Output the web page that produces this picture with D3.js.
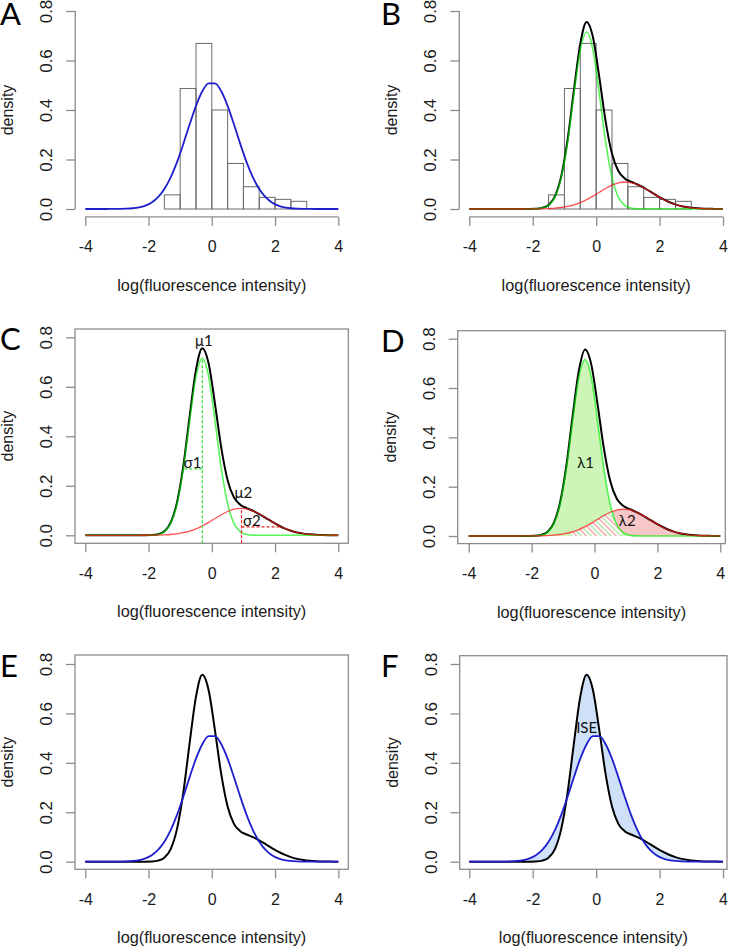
<!DOCTYPE html>
<html><head><meta charset="utf-8">
<script src="https://cdn.jsdelivr.net/npm/d3@7"></script>
<style>body{margin:0;background:#fff}svg{display:block}</style>
</head><body>
<svg id="c" width="733" height="949"></svg>
<script>
// ---------- data ----------
const xGrid = [-4,-3.9,-3.7,-3.5,-3.3,-3.1,-2.9,-2.7,-2.5,-2.3,-2.1,-1.9,-1.7,-1.5,-1.3,-1.1,-0.9,-0.7,-0.5,-0.3,-0.1,0.1,0.3,0.5,0.7,0.9,1.1,1.3,1.5,1.7,1.9,2.1,2.3,2.5,2.7,2.9,3.1,3.3,3.5,3.7,3.9,4];
const greenComp = [0,0,0,0,0,0,0,0,0,0,0.0001,0.0007,0.0036,0.0146,0.0479,0.1267,0.2701,0.4639,0.6417,0.715,0.6417,0.4639,0.2701,0.1267,0.0479,0.0146,0.0036,0.0007,0.0001,0,0,0,0,0,0,0,0,0,0,0,0,0];
const redComp = [0,0,0,0,0,0,0,0,0,0.0001,0.0002,0.0004,0.0008,0.0017,0.0033,0.0061,0.0104,0.0170,0.0261,0.0380,0.0521,0.0677,0.0830,0.0962,0.1053,0.1090,0.1065,0.0984,0.0859,0.0708,0.0552,0.0406,0.0283,0.0186,0.0115,0.0068,0.0038,0.0020,0.0010,0.0005,0.0002,0.0001];
const mixture = [0,0,0,0,0,0,0,0,0,0.0001,0.0003,0.0011,0.0044,0.0163,0.0512,0.1328,0.2805,0.4809,0.6678,0.756,0.6938,0.5316,0.3531,0.2229,0.1532,0.1236,0.1101,0.0991,0.0860,0.0708,0.0552,0.0406,0.0283,0.0186,0.0115,0.0068,0.0038,0.0020,0.0010,0.0005,0.0002,0.0001];
const normalFit = [0,0,0,0,0.0001,0.0002,0.0005,0.0013,0.0030,0.0066,0.0137,0.0264,0.0476,0.0806,0.1277,0.1894,0.2631,0.3423,0.4169,0.4755,0.5078,0.5078,0.4755,0.4169,0.3423,0.2631,0.1894,0.1277,0.0806,0.0476,0.0264,0.0137,0.0066,0.0030,0.0013,0.0005,0.0002,0.0001,0,0,0,0];
const histBreaks = [-2,-1.5,-1,-0.5,0,0.5,1,1.5,2,2.5,3];
const histDensity = [0,0.057,0.487,0.669,0.400,0.184,0.090,0.047,0.039,0.031];
const xTicks = [-4,-2,0,2,4];
const yTicks = [0,0.2,0.4,0.6,0.8];
const panelLetters = ['A','B','C','D','E','F'];
const xLabel = 'log(fluorescence intensity)';
const yLabel = 'density';
// annotations (data coordinates)
const labelsC = [{t:'μ1',x:-0.25,y:0.766,a:'middle'},{t:'σ1',x:-0.33,y:0.272,a:'end'},{t:'μ2',x:1.0,y:0.151,a:'middle'},{t:'σ2',x:0.99,y:0.038,a:'start'}];
const segsGreenC = [{x1:-0.3,y1:-0.032,x2:-0.3,y2:0.715},{x1:-0.87,y1:0.268,x2:-0.3,y2:0.268}];
const segsRedC = [{x1:0.94,y1:-0.032,x2:0.94,y2:0.109},{x1:0.94,y1:0.034,x2:2.15,y2:0.034}];
const labelsD = [{t:'λ1',x:-0.28,y:0.275,a:'middle'},{t:'λ2',x:1.04,y:0.04,a:'middle'}];
const hatchRange = [-0.75,0.85];
const labelsF = [{t:'ISE',x:-0.3,y:0.52,a:'middle'}];

// ---------- layout ----------
const cfgs = [
 {xr:[85.3,338.3], yr:[209,11],     l:75.2, r:348.4, t:3.1,   b:216.9, box:false, lx:0,   ly:25},
 {xr:[469.3,723],  yr:[209,11],     l:459.3,r:733,   t:3.1,   b:216.9, box:false, lx:381, ly:25},
 {xr:[85.3,338.3], yr:[535.3,337.3],l:75,   r:348.3, t:329,   b:543.3, box:true,  lx:0,   ly:350},
 {xr:[468.7,720.3],yr:[536,338.7],  l:457.7,r:725.3, t:330.7, b:543.6, box:true,  lx:381, ly:352},
 {xr:[85.3,338.3], yr:[861.7,664],  l:75,   r:348.3, t:655,   b:869.3, box:true,  lx:0,   ly:677},
 {xr:[469.3,723],  yr:[861.7,664],  l:459.7,r:727,   t:655.7, b:869.3, box:true,  lx:381, ly:677}
];

const svg = d3.select('#c');
const FONT = "'Liberation Sans', Arial, sans-serif";
const LFONT = "Lato, 'Open Sans', sans-serif";
const AX = '#8c8c8c';
const TXT = '#1a1a1a';
const COL = {blue:'#1f1fcc', black:'#000', green:'#00ee00', red:'#ff1a1a'};

const defs = svg.append('defs');
const pat = defs.append('pattern').attr('id','hatch').attr('patternUnits','userSpaceOnUse')
  .attr('width',7).attr('height',7).attr('patternTransform','rotate(-45)');
pat.append('rect').attr('width',7).attr('height',7).attr('fill','#fff');
pat.append('rect').attr('x',0).attr('width',1.4).attr('height',7).attr('fill','#f4a3a3');
pat.append('rect').attr('x',3.5).attr('width',1.4).attr('height',7).attr('fill','#a8e6a0');

function makePanel(i){
  const c = cfgs[i];
  const x = d3.scaleLinear().domain([-4,4]).range(c.xr);
  const y = d3.scaleLinear().domain([0,0.8]).range(c.yr);
  const g = svg.append('g');
  if (c.box) {
    g.append('rect').attr('x',c.l).attr('y',c.t).attr('width',c.r-c.l).attr('height',c.b-c.t)
      .attr('fill','none').attr('stroke',AX).attr('stroke-width',1.3);
  } else {
    g.append('line').attr('x1',x(-4)).attr('x2',x(4)).attr('y1',c.b).attr('y2',c.b).attr('stroke',AX).attr('stroke-width',1.3);
    g.append('line').attr('y1',y(0)).attr('y2',y(0.8)).attr('x1',c.l).attr('x2',c.l).attr('stroke',AX).attr('stroke-width',1.3);
  }
  const xa = g.append('g').attr('transform',`translate(0,${c.b})`)
    .call(d3.axisBottom(x).tickValues(xTicks).tickSize(9).tickFormat(d=>String(d)));
  xa.select('.domain').remove();
  xa.selectAll('line').attr('stroke',AX).attr('stroke-width',1.3);
  xa.selectAll('text').attr('y',35.5).attr('dy',null).attr('font-family',FONT).attr('font-size',16).attr('fill',TXT);
  const ya = g.append('g').attr('transform',`translate(${c.l},0)`)
    .call(d3.axisLeft(y).tickValues(yTicks).tickSize(9).tickFormat(d3.format('.1f')));
  ya.select('.domain').remove();
  ya.selectAll('line').attr('stroke',AX).attr('stroke-width',1.3);
  ya.selectAll('text').attr('x',0).attr('dy',null).attr('transform','translate(-23,0) rotate(-90)')
    .attr('text-anchor','middle').attr('font-family',FONT).attr('font-size',17).attr('fill',TXT);
  g.append('text').attr('x',(c.l+c.r)/2).attr('y',c.b+74).attr('text-anchor','middle')
    .attr('font-family',FONT).attr('font-size',16.3).attr('fill',TXT).text(xLabel);
  g.append('text').attr('transform',`translate(${c.l-62},${(c.t+c.b)/2}) rotate(-90)`).attr('text-anchor','middle')
    .attr('font-family',FONT).attr('font-size',16).attr('fill',TXT).text(yLabel);
  svg.append('text').attr('x',c.lx).attr('y',c.ly).attr('font-family',LFONT).attr('font-size',31)
    .attr('fill','#000').text(panelLetters[i]);
  return {g,x,y};
}

function lineGen(p, arr){
  return d3.line().x((d,i)=>p.x(xGrid[i])).y(d=>p.y(d)).curve(d3.curveMonotoneX)(arr);
}
function areaGen(p, lo, hi){
  return d3.area().x((d,i)=>p.x(xGrid[i])).y0((d,i)=>p.y(lo ? lo[i] : 0)).y1((d,i)=>p.y(hi[i])).curve(d3.curveMonotoneX)(hi);
}
function drawLine(p, arr, color, w, op){
  p.g.append('path').attr('d',lineGen(p,arr)).attr('fill','none').attr('stroke',color)
    .attr('stroke-width',w).attr('stroke-opacity',op||1).attr('stroke-linejoin','round');
}
function drawHist(p){
  p.g.selectAll(null).data(histDensity).join('rect')
    .attr('x',(d,i)=>p.x(histBreaks[i])).attr('width',(d,i)=>p.x(histBreaks[i+1])-p.x(histBreaks[i]))
    .attr('y',d=>p.y(d)).attr('height',d=>p.y(0)-p.y(d))
    .attr('fill','none').attr('stroke','#6a6a6a').attr('stroke-width',1);
}
function drawLabels(p, labels){
  labels.forEach(L=>p.g.append('text').attr('x',p.x(L.x)).attr('y',p.y(L.y)).attr('text-anchor',L.a)
    .attr('font-family',LFONT).attr('font-size',15).attr('fill','#111').text(L.t));
}
function drawSegs(p, segs, color){
  segs.forEach(s=>p.g.append('line').attr('x1',p.x(s.x1)).attr('x2',p.x(s.x2)).attr('y1',p.y(s.y1)).attr('y2',p.y(s.y2))
    .attr('stroke',color).attr('stroke-width',1.2).attr('stroke-dasharray','3,2'));
}

// A
const pA = makePanel(0);
drawHist(pA);
drawLine(pA, normalFit, COL.blue, 1.8);

// B
const pB = makePanel(1);
drawHist(pB);
drawLine(pB, mixture, COL.black, 2);
drawLine(pB, greenComp, COL.green, 1.6, 0.65);
drawLine(pB, redComp, COL.red, 1.3, 0.75);

// C
const pC = makePanel(2);
drawLine(pC, mixture, COL.black, 2);
drawLine(pC, greenComp, COL.green, 1.6, 0.65);
drawLine(pC, redComp, COL.red, 1.3, 0.75);
drawSegs(pC, segsGreenC, '#33dd33');
drawSegs(pC, segsRedC, '#ee2222');
drawLabels(pC, labelsC);

// D
const pD = makePanel(3);
const clipD = defs.append('clipPath').attr('id','clipHatch');
clipD.append('rect').attr('x',pD.x(hatchRange[0])).attr('width',pD.x(hatchRange[1])-pD.x(hatchRange[0])).attr('y',0).attr('height',949);
pD.g.append('path').attr('d',areaGen(pD,null,redComp)).attr('fill','#f7c6c6');
pD.g.append('path').attr('d',areaGen(pD,null,greenComp)).attr('fill','#cdf5b8');
const minComp = greenComp.map((v,i)=>Math.min(v,redComp[i]));
pD.g.append('path').attr('d',areaGen(pD,null,minComp)).attr('fill','url(#hatch)').attr('clip-path','url(#clipHatch)');
drawLine(pD, mixture, COL.black, 2);
drawLine(pD, greenComp, COL.green, 1.6, 0.65);
drawLine(pD, redComp, COL.red, 1.3, 0.75);
drawLabels(pD, labelsD);

// E
const pE = makePanel(4);
drawLine(pE, mixture, COL.black, 2);
drawLine(pE, normalFit, COL.blue, 1.8);

// F
const pF = makePanel(5);
pF.g.append('path').attr('d',areaGen(pF,normalFit,mixture)).attr('fill','#cfe1f8');
drawLine(pF, mixture, COL.black, 2);
drawLine(pF, normalFit, COL.blue, 1.8);
drawLabels(pF, labelsF);
</script>
</body></html>
